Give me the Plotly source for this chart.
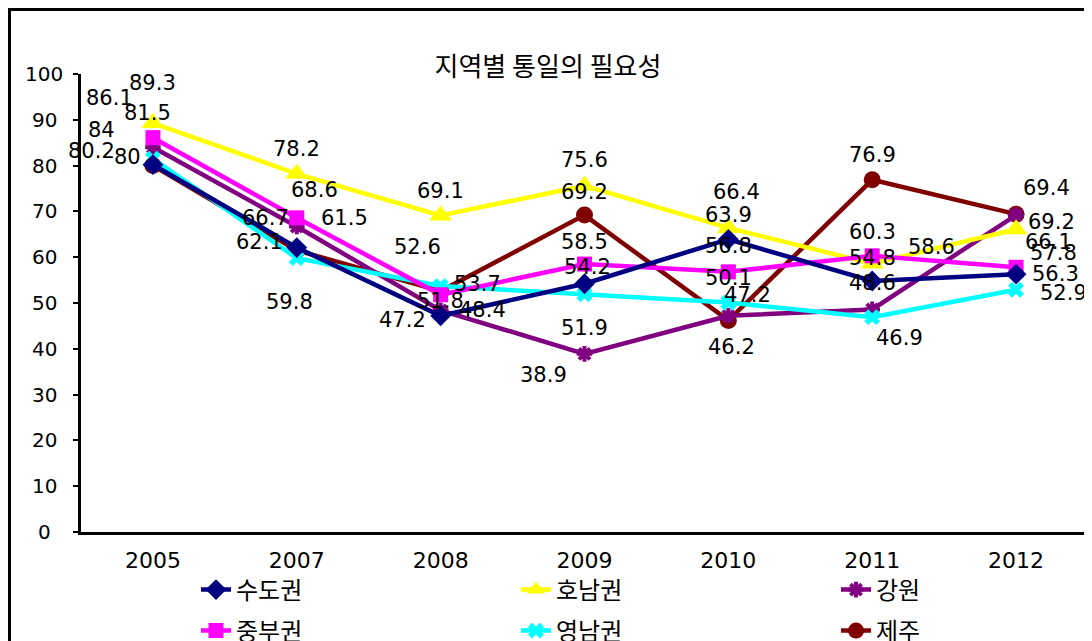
import plotly.graph_objects as go

# ---------------- data ----------------
years = ["2005", "2007", "2008", "2009", "2010", "2011", "2012"]
series_names = ["수도권", "호남권", "강원", "중부권", "영남권", "제주"]
sudo = [80.2, 62.1, 47.2, 54.2, 63.9, 54.8, 56.3]
honam = [89.3, 78.2, 69.1, 75.6, 66.4, 58.6, 66.1]
gangwon = [84, 66.7, 48.4, 38.9, 47.2, 48.6, 69.2]
jungbu = [86.1, 68.6, 51.8, 58.5, 56.8, 60.3, 57.8]
yeongnam = [81.5, 59.8, 53.7, 51.9, 50.1, 46.9, 52.9]
jeju = [80, 61.5, 52.6, 69.2, 46.2, 76.9, 69.4]
y_tick_values = [0, 10, 20, 30, 40, 50, 60, 70, 80, 90, 100]
title_text = "지역별 통일의 필요성"

values = {"수도권": sudo, "호남권": honam, "강원": gangwon,
          "중부권": jungbu, "영남권": yeongnam, "제주": jeju}

# ---------------- styles ----------------
W, H = 1092, 641
OFF = 8  # page body margin
ML, MR, MT, MB = 73, 12, 66, 117
PW, PH = W - ML - MR, H - MT - MB

def px_x(p):  # page px -> paper x
    return (p - OFF - ML) / PW

def px_y(p):  # page px -> paper y
    return (H - MB - (p - OFF)) / PH

styles = {
    "수도권": dict(color="#000080", symbol="diamond", size=16, lw=0),
    "호남권": dict(color="#FFFF00", symbol="triangle-up", size=20, lw=0),
    "강원": dict(color="#800080", symbol="asterisk", size=13, lw=4),
    "중부권": dict(color="#FF00FF", symbol="square", size=15, lw=0),
    "영남권": dict(color="#00FFFF", symbol="x", size=14, lw=0),
    "제주": dict(color="#800000", symbol="circle", size=17, lw=0),
}
# label offsets in px (dx right, dy down) per point
label_offsets = {
    "수도권": [(-61, -14), (-37, -6), (-38, 4), (3, -17), (0, -24), (0, -23), (39, 0)],
    "호남권": [(0, -40), (0, -25), (0, -25), (0, -26), (8, -36), (59, -17), (32, 13)],
    "강원": [(-51, -17), (-31, -9), (42, 0), (-41, 21), (19, -21), (0, -26), (35, 7)],
    "중부권": [(-43, -40), (18, -28), (0, 6), (0, -22), (0, -26), (0, -24), (37, -14)],
    "영남권": [(-5, -46), (-7, 44), (37, -2), (0, 34), (0, -25), (27, 21), (47, 3)],
    "제주": [(-25, -9), (48, -32), (-23, -44), (0, -23), (3, 27), (0, -25), (30, -26)],
}
# legend slots (legend left px x, row centre px y) in page coordinates
legend_slots = {
    "수도권": (196, 590, "legend"), "호남권": (516, 590, "legend2"), "강원": (836, 590, "legend3"),
    "중부권": (196, 631, "legend4"), "영남권": (516, 631, "legend5"), "제주": (836, 631, "legend6"),
}
draw_order = ["제주", "강원", "영남권", "호남권", "중부권", "수도권"]

NUM_FONT = "DejaVu Sans, Noto Sans CJK KR"
KR_FONT = "Noto Sans CJK KR, DejaVu Sans"

fig = go.Figure()
for name in draw_order:
    st = styles[name]
    marker = dict(color=st["color"], symbol=st["symbol"], size=st["size"])
    if st["lw"]:
        marker["line"] = dict(color=st["color"], width=st["lw"])
    fig.add_trace(go.Scatter(
        x=years, y=values[name], name=name, mode="lines+markers",
        line=dict(color=st["color"], width=4.5), marker=marker,
        legend=legend_slots[name][2], cliponaxis=False, showlegend=True,
    ))

annotations = []
for name in series_names:
    for i, (v, (dx, dy)) in enumerate(zip(values[name], label_offsets[name])):
        annotations.append(dict(
            x=i, y=v, xref="x", yref="y", text=f"{v:g}", showarrow=False,
            xshift=dx, yshift=-dy, xanchor="center", yanchor="middle",
            font=dict(family=NUM_FONT, size=21, color="#000000"),
        ))
for t in y_tick_values:
    annotations.append(dict(
        x=px_x(44), y=t, xref="paper", yref="y", text=str(t), showarrow=False,
        xanchor="center", yanchor="middle",
        font=dict(family=NUM_FONT, size=20, color="#000000"),
    ))

layout_legends = {}
for name, (tx, ty, key) in legend_slots.items():
    layout_legends[key] = dict(
        x=px_x(tx), y=px_y(ty), xanchor="left", yanchor="middle",
        orientation="v", bgcolor="rgba(0,0,0,0)", borderwidth=0,
        font=dict(family=KR_FONT, size=24, color="#000000"),
        itemwidth=30, visible=True,
    )

fig.update_layout(
    width=W, height=H, showlegend=True,
    margin=dict(l=ML, r=MR, t=MT, b=MB, autoexpand=False),
    paper_bgcolor="white", plot_bgcolor="white",
    title=dict(text=title_text, x=(548 - OFF) / W, xref="container", xanchor="center",
               y=1 - (67 - OFF) / H, yref="container", yanchor="middle",
               font=dict(family=KR_FONT, size=26, color="#000000")),
    xaxis=dict(type="category", range=[-0.5, 6.5], showgrid=False, zeroline=False,
               showline=True, linecolor="black", linewidth=3, ticks="",
               tickfont=dict(family=NUM_FONT, size=22, color="#000000"),
               ticklabelstandoff=7),
    yaxis=dict(range=[0, 100], showgrid=False, zeroline=False, showline=True,
               linecolor="black", linewidth=3, tickvals=y_tick_values,
               ticks="outside", ticklen=5, tickwidth=2, tickcolor="black",
               showticklabels=False),
    yaxis2=dict(range=[0, 100], overlaying="y", side="left", anchor="x",
                showgrid=False, zeroline=False, showline=False,
                tickvals=y_tick_values, ticks="inside", ticklen=4, tickwidth=2,
                tickcolor="black", showticklabels=False),
    annotations=annotations,
    shapes=[dict(type="rect", xref="paper", yref="paper",
                 x0=px_x(9.5), x1=px_x(1089.5), y0=px_y(700), y1=px_y(9.5),
                 line=dict(color="black", width=3), layer="above")],
    **layout_legends,
)

fig.write_html("out.html")
